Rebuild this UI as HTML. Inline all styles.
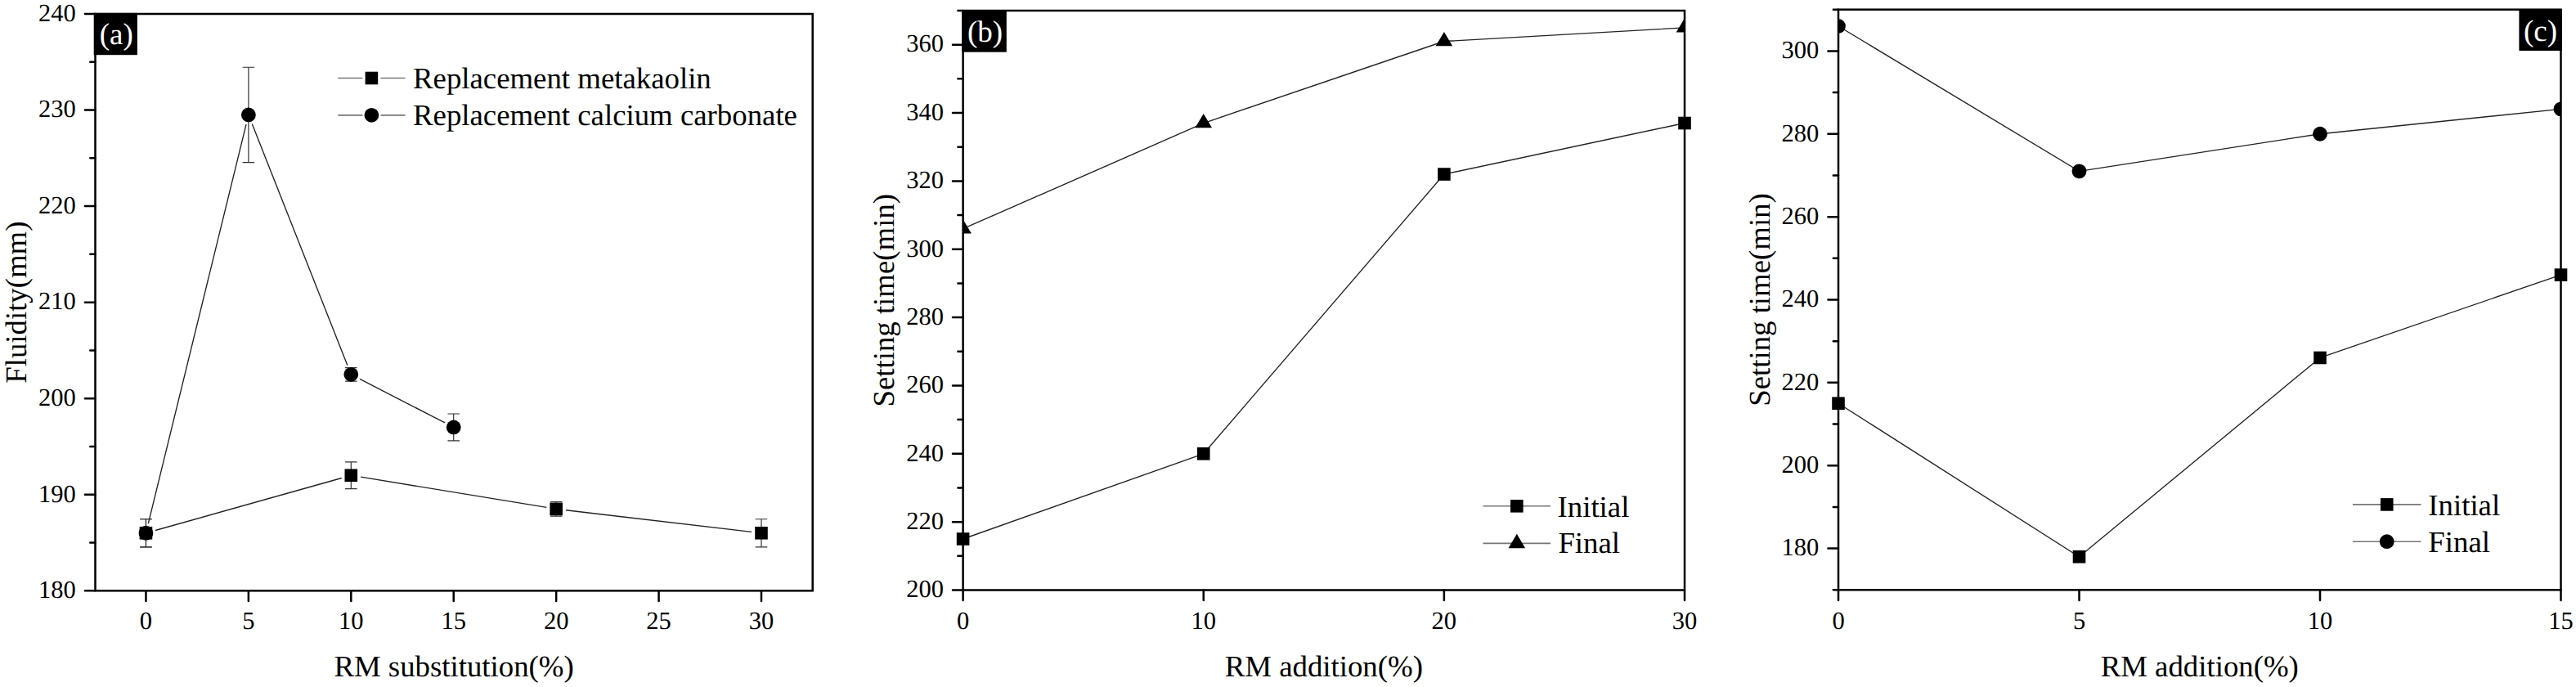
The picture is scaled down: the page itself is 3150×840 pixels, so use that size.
<!DOCTYPE html>
<html><head><meta charset="utf-8"><style>
html,body{margin:0;padding:0;background:#fff;width:3150px;height:840px;overflow:hidden}
svg{display:block;text-rendering:geometricPrecision}
</style></head><body>
<svg width="3150" height="840" viewBox="0 0 3150 840" font-family='"Liberation Serif", serif'>
<rect width="3150" height="840" fill="#fff"/>
<clipPath id="clipa"><rect x="116.5" y="17" width="877.2" height="705.3"/></clipPath>
<path d="M190.01,648.52L417.75,584.49M441.14,583.18L668.30,620.44M692.06,623.78L919.07,650.37" stroke="#222" stroke-width="1.35" fill="none"/>
<path d="M178.46,634.73V668.81M171.16,634.73H185.76M171.16,668.81H185.76" stroke="#333" stroke-width="1.2" fill="none"/>
<path d="M429.30,564.78V597.70M422.00,564.78H436.60M422.00,597.70H436.60" stroke="#333" stroke-width="1.2" fill="none"/>
<path d="M680.15,613.57V631.20M672.85,613.57H687.45M672.85,631.20H687.45" stroke="#333" stroke-width="1.2" fill="none"/>
<path d="M930.99,634.73V668.81M923.69,634.73H938.29M923.69,668.81H938.29" stroke="#333" stroke-width="1.2" fill="none"/>
<g>
<rect x="170.66" y="643.97" width="15.6" height="15.6" fill="#000"/>
<rect x="421.50" y="573.44" width="15.6" height="15.6" fill="#000"/>
<rect x="672.35" y="614.58" width="15.6" height="15.6" fill="#000"/>
<rect x="923.19" y="643.97" width="15.6" height="15.6" fill="#000"/>
</g>
<path d="M181.32,640.12L301.02,152.08M308.29,151.59L424.89,446.65M439.97,463.31L544.06,516.97" stroke="#222" stroke-width="1.35" fill="none"/>
<path d="M178.46,634.73V668.81M171.16,634.73H185.76M171.16,668.81H185.76" stroke="#333" stroke-width="1.2" fill="none"/>
<path d="M303.88,82.24V198.61M296.58,82.24H311.18M296.58,198.61H311.18" stroke="#333" stroke-width="1.2" fill="none"/>
<path d="M429.30,449.58V466.04M422.00,449.58H436.60M422.00,466.04H436.60" stroke="#333" stroke-width="1.2" fill="none"/>
<path d="M554.72,506.01V538.92M547.42,506.01H562.02M547.42,538.92H562.02" stroke="#333" stroke-width="1.2" fill="none"/>
<g>
<circle cx="178.46" cy="651.77" r="8.9" fill="#000"/>
<circle cx="303.88" cy="140.43" r="8.9" fill="#000"/>
<circle cx="429.30" cy="457.81" r="8.9" fill="#000"/>
<circle cx="554.72" cy="522.46" r="8.9" fill="#000"/>
</g>
<rect x="116.5" y="17" width="877.2" height="705.3" fill="none" stroke="#000" stroke-width="2.5"/>
<path d="M103.90,722.30H116.50M110.30,663.52H116.50M103.90,604.75H116.50M110.30,545.97H116.50M103.90,487.20H116.50M110.30,428.42H116.50M103.90,369.65H116.50M110.30,310.87H116.50M103.90,252.10H116.50M110.30,193.33H116.50M103.90,134.55H116.50M110.30,75.77H116.50M103.90,17.00H116.50M178.46,722.30V734.90M303.88,722.30V734.90M429.30,722.30V734.90M554.72,722.30V734.90M680.15,722.30V734.90M805.57,722.30V734.90M930.99,722.30V734.90" stroke="#000" stroke-width="2.5" stroke-linecap="round" fill="none"/>
<text x="92.80" y="731.10" text-anchor="end" font-size="30.5">180</text>
<text x="92.80" y="613.55" text-anchor="end" font-size="30.5">190</text>
<text x="92.80" y="496.00" text-anchor="end" font-size="30.5">200</text>
<text x="92.80" y="378.45" text-anchor="end" font-size="30.5">210</text>
<text x="92.80" y="260.90" text-anchor="end" font-size="30.5">220</text>
<text x="92.80" y="143.35" text-anchor="end" font-size="30.5">230</text>
<text x="92.80" y="25.80" text-anchor="end" font-size="30.5">240</text>
<text x="178.46" y="768.9" text-anchor="middle" font-size="30.5">0</text>
<text x="303.88" y="768.9" text-anchor="middle" font-size="30.5">5</text>
<text x="429.30" y="768.9" text-anchor="middle" font-size="30.5">10</text>
<text x="554.72" y="768.9" text-anchor="middle" font-size="30.5">15</text>
<text x="680.15" y="768.9" text-anchor="middle" font-size="30.5">20</text>
<text x="805.57" y="768.9" text-anchor="middle" font-size="30.5">25</text>
<text x="930.99" y="768.9" text-anchor="middle" font-size="30.5">30</text>
<text x="555.10" y="826.5" text-anchor="middle" font-size="36.8">RM substitution(%)</text>
<text transform="translate(32.20,369.65) rotate(-90)" x="0" y="0" text-anchor="middle" font-size="36.8">Fluidity(mm)</text>
<rect x="114.7" y="15.9" width="53.2" height="51.300000000000004" fill="#000"/>
<text x="142.2" y="54.4" font-size="37" fill="#fff" text-anchor="middle">(a)</text>
<path d="M413.3,95.5H443.4M465.4,95.5H495.5" stroke="#777" stroke-width="1.7"/>
<rect x="446.60" y="87.70" width="15.6" height="15.6" fill="#000"/>
<text x="505.0" y="108.1" font-size="36.8">Replacement metakaolin</text>
<path d="M413.3,140.8H443.4M465.4,140.8H495.5" stroke="#777" stroke-width="1.7"/>
<circle cx="454.40" cy="140.80" r="8.9" fill="#000"/>
<text x="505.0" y="153.2" font-size="36.8">Replacement calcium carbonate</text>
<clipPath id="clipb"><rect x="1177.6" y="13" width="882.4000000000001" height="708.5"/></clipPath>
<path d="M1177.60,658.99L1471.73,554.79M1471.73,554.79L1765.87,213.05M1765.87,213.05L2060.00,150.53" stroke="#222" stroke-width="1.35" fill="none"/>
<g>
<rect x="1169.80" y="651.19" width="15.6" height="15.6" fill="#000"/>
<rect x="1463.93" y="546.99" width="15.6" height="15.6" fill="#000"/>
<rect x="1758.07" y="205.25" width="15.6" height="15.6" fill="#000"/>
<rect x="2052.20" y="142.73" width="15.6" height="15.6" fill="#000"/>
</g>
<path d="M1177.60,279.73L1471.73,150.53M1471.73,150.53L1765.87,50.51M1765.87,50.51L2060.00,33.84" stroke="#222" stroke-width="1.35" fill="none"/>
<g clip-path="url(#clipb)">
<path d="M1177.60,268.20L1187.90,285.50L1167.30,285.50Z" fill="#000"/>
<path d="M1471.73,139.00L1482.03,156.30L1461.43,156.30Z" fill="#000"/>
<path d="M1765.87,38.98L1776.17,56.28L1755.57,56.28Z" fill="#000"/>
<path d="M2060.00,22.30L2070.30,39.60L2049.70,39.60Z" fill="#000"/>
</g>
<rect x="1177.6" y="13" width="882.4000000000001" height="708.5" fill="none" stroke="#000" stroke-width="2.5"/>
<path d="M1165.00,721.50H1177.60M1171.40,679.82H1177.60M1165.00,638.15H1177.60M1171.40,596.47H1177.60M1165.00,554.79H1177.60M1171.40,513.12H1177.60M1165.00,471.44H1177.60M1171.40,429.76H1177.60M1165.00,388.09H1177.60M1171.40,346.41H1177.60M1165.00,304.74H1177.60M1171.40,263.06H1177.60M1165.00,221.38H1177.60M1171.40,179.71H1177.60M1165.00,138.03H1177.60M1171.40,96.35H1177.60M1165.00,54.68H1177.60M1171.40,13.00H1177.60M1177.60,721.50V734.10M1471.73,721.50V734.10M1765.87,721.50V734.10M2060.00,721.50V734.10" stroke="#000" stroke-width="2.5" stroke-linecap="round" fill="none"/>
<text x="1153.90" y="730.30" text-anchor="end" font-size="30.5">200</text>
<text x="1153.90" y="646.95" text-anchor="end" font-size="30.5">220</text>
<text x="1153.90" y="563.59" text-anchor="end" font-size="30.5">240</text>
<text x="1153.90" y="480.24" text-anchor="end" font-size="30.5">260</text>
<text x="1153.90" y="396.89" text-anchor="end" font-size="30.5">280</text>
<text x="1153.90" y="313.54" text-anchor="end" font-size="30.5">300</text>
<text x="1153.90" y="230.18" text-anchor="end" font-size="30.5">320</text>
<text x="1153.90" y="146.83" text-anchor="end" font-size="30.5">340</text>
<text x="1153.90" y="63.48" text-anchor="end" font-size="30.5">360</text>
<text x="1177.60" y="768.9" text-anchor="middle" font-size="30.5">0</text>
<text x="1471.73" y="768.9" text-anchor="middle" font-size="30.5">10</text>
<text x="1765.87" y="768.9" text-anchor="middle" font-size="30.5">20</text>
<text x="2060.00" y="768.9" text-anchor="middle" font-size="30.5">30</text>
<text x="1618.80" y="826.5" text-anchor="middle" font-size="36.8">RM addition(%)</text>
<text transform="translate(1093.30,367.25) rotate(-90)" x="0" y="0" text-anchor="middle" font-size="36.8">Setting time(min)</text>
<rect x="1176.3" y="12.2" width="54.5" height="51.5" fill="#000"/>
<text x="1204.6" y="51" font-size="37" fill="#fff" text-anchor="middle">(b)</text>
<path d="M1813.5,618.8H1896.1" stroke="#777" stroke-width="1.6"/>
<rect x="1847.00" y="611.00" width="15.6" height="15.6" fill="#000"/>
<text x="1904.5" y="631.9" font-size="36.8">Initial</text>
<path d="M1813.5,664.4H1896.1" stroke="#777" stroke-width="1.6"/>
<path d="M1854.80,652.87L1865.10,670.17L1844.50,670.17Z" fill="#000"/>
<text x="1905.3999999999999" y="676.4" font-size="36.8">Final</text>
<clipPath id="clipc"><rect x="2248" y="11.7" width="883.5" height="709.5999999999999"/></clipPath>
<path d="M2248.00,493.21L2542.50,680.75M2542.50,680.75L2837.00,437.46M2837.00,437.46L3131.50,336.09" stroke="#222" stroke-width="1.35" fill="none"/>
<g>
<rect x="2240.20" y="485.41" width="15.6" height="15.6" fill="#000"/>
<rect x="2534.70" y="672.95" width="15.6" height="15.6" fill="#000"/>
<rect x="2829.20" y="429.66" width="15.6" height="15.6" fill="#000"/>
<rect x="3123.70" y="328.29" width="15.6" height="15.6" fill="#000"/>
</g>
<path d="M2248.00,31.97L2542.50,209.37M2542.50,209.37L2837.00,163.76M2837.00,163.76L3131.50,133.35" stroke="#222" stroke-width="1.35" fill="none"/>
<g clip-path="url(#clipc)">
<circle cx="2248.00" cy="31.97" r="8.9" fill="#000"/>
<circle cx="2542.50" cy="209.37" r="8.9" fill="#000"/>
<circle cx="2837.00" cy="163.76" r="8.9" fill="#000"/>
<circle cx="3131.50" cy="133.35" r="8.9" fill="#000"/>
</g>
<rect x="2248" y="11.7" width="883.5" height="709.5999999999999" fill="none" stroke="#000" stroke-width="2.5"/>
<path d="M2241.80,721.30H2248.00M2235.40,670.61H2248.00M2241.80,619.93H2248.00M2235.40,569.24H2248.00M2241.80,518.56H2248.00M2235.40,467.87H2248.00M2241.80,417.19H2248.00M2235.40,366.50H2248.00M2241.80,315.81H2248.00M2235.40,265.13H2248.00M2241.80,214.44H2248.00M2235.40,163.76H2248.00M2241.80,113.07H2248.00M2235.40,62.39H2248.00M2241.80,11.70H2248.00M2248.00,721.30V733.90M2542.50,721.30V733.90M2837.00,721.30V733.90M3131.50,721.30V733.90" stroke="#000" stroke-width="2.5" stroke-linecap="round" fill="none"/>
<text x="2224.30" y="679.41" text-anchor="end" font-size="30.5">180</text>
<text x="2224.30" y="578.04" text-anchor="end" font-size="30.5">200</text>
<text x="2224.30" y="476.67" text-anchor="end" font-size="30.5">220</text>
<text x="2224.30" y="375.30" text-anchor="end" font-size="30.5">240</text>
<text x="2224.30" y="273.93" text-anchor="end" font-size="30.5">260</text>
<text x="2224.30" y="172.56" text-anchor="end" font-size="30.5">280</text>
<text x="2224.30" y="71.19" text-anchor="end" font-size="30.5">300</text>
<text x="2248.00" y="768.9" text-anchor="middle" font-size="30.5">0</text>
<text x="2542.50" y="768.9" text-anchor="middle" font-size="30.5">5</text>
<text x="2837.00" y="768.9" text-anchor="middle" font-size="30.5">10</text>
<text x="3131.50" y="768.9" text-anchor="middle" font-size="30.5">15</text>
<text x="2689.75" y="826.5" text-anchor="middle" font-size="36.8">RM addition(%)</text>
<text transform="translate(2163.70,366.50) rotate(-90)" x="0" y="0" text-anchor="middle" font-size="36.8">Setting time(min)</text>
<rect x="3080.4" y="11.6" width="52.40000000000009" height="50.4" fill="#000"/>
<text x="3106.6" y="50" font-size="37" fill="#fff" text-anchor="middle">(c)</text>
<path d="M2877,616.9H2960.5" stroke="#777" stroke-width="1.6"/>
<rect x="2910.95" y="609.10" width="15.6" height="15.6" fill="#000"/>
<text x="2969.3" y="630.1" font-size="36.8">Initial</text>
<path d="M2877,662.2H2960.5" stroke="#777" stroke-width="1.6"/>
<circle cx="2918.75" cy="662.20" r="8.9" fill="#000"/>
<text x="2969.3" y="674.8" font-size="36.8">Final</text>
</svg>
</body></html>
